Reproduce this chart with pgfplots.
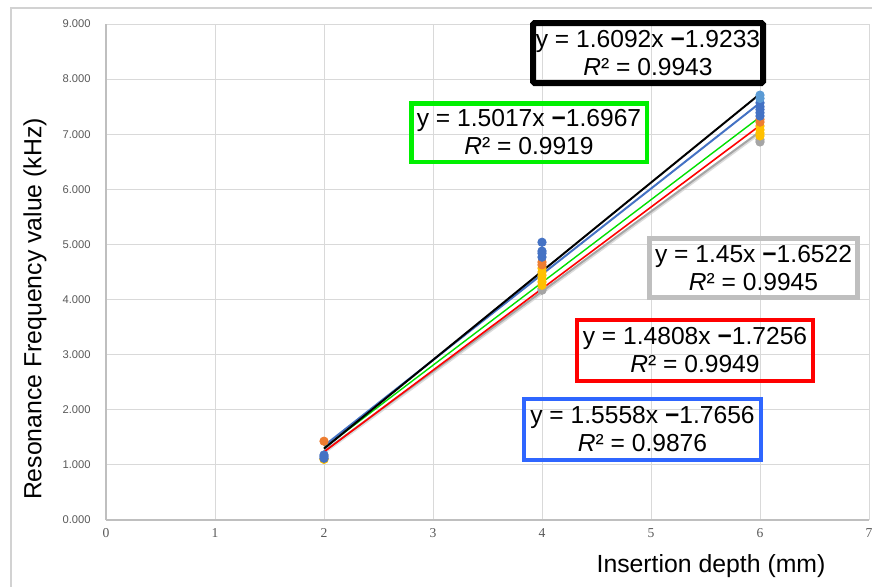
\documentclass[border=0pt]{standalone}
\usepackage{pgfplots}
\pgfplotsset{compat=1.18}
\usepackage{fontspec}
\setmainfont{Liberation Sans}
\newfontfamily\tickserif{Liberation Serif}

\definecolor{xlblue}{HTML}{4472C4}
\definecolor{xlorange}{HTML}{ED7D31}
\definecolor{xlgray}{HTML}{A5A5A5}
\definecolor{xlyellow}{HTML}{FFC000}
\definecolor{xllightblue}{HTML}{5B9BD5}
\definecolor{gridgray}{HTML}{D9D9D9}
\definecolor{axisgray}{HTML}{BFBFBF}
\definecolor{ticklabelgray}{HTML}{595959}
\definecolor{boxgray}{HTML}{BFBFBF}
\definecolor{boxblue}{HTML}{2F66FF}
\definecolor{boxgreen}{HTML}{00F000}
\definecolor{trendgreen}{HTML}{00E000}

\begin{document}
\begin{tikzpicture}[x=1pt,y=1pt]
\useasboundingbox (-53,-33) rectangle (383,260);
% outer chart border (cropped at right and bottom)
\draw[axisgray!70, line width=0.6pt] (-47.5,-40) -- (-47.5,256) -- (390,256);

\begin{axis}[
    at={(0,0)}, anchor=south west,
    scale only axis,
    width=381.5pt, height=248pt,
    xmin=0, xmax=7, ymin=0, ymax=9,
    xtick={0,1,...,7}, ytick={0,1,...,9},
    grid=major,
    grid style={gridgray, line width=0.5pt},
    axis x line*=bottom, axis y line*=left,
    axis line style={axisgray, line width=0.9pt},
    major tick length=0pt,
    /pgf/number format/assume math mode=true,
    yticklabel style={font=\fontsize{5.6}{6}\selectfont, color=ticklabelgray,
        inner sep=0pt, xshift=-7.5pt,
        /pgf/number format/.cd, fixed, fixed zerofill, precision=3},
    xticklabel style={font=\tickserif\fontsize{6.8}{7}\selectfont, color=ticklabelgray,
        inner sep=0pt, yshift=-4pt},
    clip=false,
]

% measured points
\addplot[only marks, mark=*, mark size=2.1pt, color=xlgray]
    coordinates {(2,1.11) (4,4.20) (4,4.17) (6,6.90) (6,6.86)};
\addplot[only marks, mark=*, mark size=2.1pt, color=xlyellow]
    coordinates {(2,1.10) (4,4.57) (4,4.50) (4,4.44) (4,4.38) (4,4.32) (4,4.26)
                 (6,7.15) (6,7.08) (6,7.02) (6,6.97)};
\addplot[only marks, mark=*, mark size=2.1pt, color=xlorange]
    coordinates {(2,1.43) (4,4.68) (4,4.63) (6,7.27) (6,7.22)};
\addplot[only marks, mark=*, mark size=2.1pt, color=xlblue]
    coordinates {(2,1.18) (2,1.15) (2,1.12) (4,5.04) (4,4.88) (4,4.84) (4,4.77)
                 (6,7.57) (6,7.50) (6,7.45) (6,7.39) (6,7.33)};
\addplot[only marks, mark=*, mark size=2.1pt, color=xllightblue]
    coordinates {(6,7.71) (6,7.65)};

% linear trendlines (end points from the fitted equations)
\addplot[gray!40, line width=1pt, opacity=0.7, yshift=-1pt]
    coordinates {(2,1.2478) (6,7.0478)};
\addplot[xlgray, line width=1pt] coordinates {(2,1.2478) (6,7.0478)};
\addplot[red, line width=0.8pt] coordinates {(2,1.2360) (6,7.1592)};
\addplot[trendgreen, line width=0.7pt] coordinates {(2,1.3067) (6,7.3135)};
\addplot[xlblue, line width=1pt] coordinates {(2,1.3460) (6,7.5692)};
\addplot[black, line width=1pt] coordinates {(2,1.2951) (6,7.7319)};
\end{axis}

% axis titles
\node[rotate=90, font=\fontsize{12.4}{14}\selectfont] at (-35.5,105.5) {Resonance Frequency value (kHz)};
\node[font=\fontsize{12.4}{14}\selectfont] at (302.5,-23) {Insertion depth (mm)};

% equation boxes
\tikzset{eqtext/.style={align=center, font=\fontsize{12.3}{14}\selectfont, inner sep=0pt}}
\newcommand{\mn}{\textbf{−}}
\draw[black, line width=3pt, rounded corners=0.8pt] (213.5,218.5) rectangle (328.5,248.5);
\node[eqtext] at (271,233.5) {y = 1.6092x \mn1.9233\\\textit{R}² = 0.9943};

\draw[boxgreen, line width=2.3pt] (152.6,179.1) rectangle (270.4,208.4);
\node[eqtext] at (211.5,193.75) {y = 1.5017x \mn1.6967\\\textit{R}² = 0.9919};

\draw[boxgray, line width=2.5pt] (271.6,111.1) rectangle (375.9,140.9);
\node[eqtext] at (323.75,126) {y = 1.45x \mn1.6522\\\textit{R}² = 0.9945};

\draw[red, line width=2.2pt] (235.5,69.5) rectangle (353.5,100);
\node[eqtext] at (294.5,84.75) {y = 1.4808x \mn1.7256\\\textit{R}² = 0.9949};

\draw[boxblue, line width=2.2pt] (209,30) rectangle (327.5,60.5);
\node[eqtext] at (268.25,45.25) {y = 1.5558x \mn1.7656\\\textit{R}² = 0.9876};
\end{tikzpicture}
\end{document}
